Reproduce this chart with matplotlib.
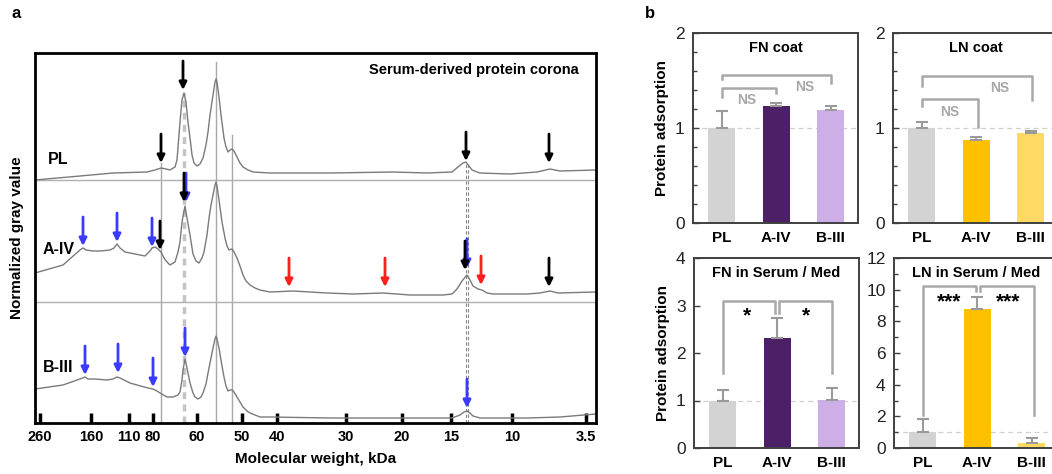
import matplotlib
matplotlib.use('Agg')
import matplotlib.pyplot as plt
from matplotlib.ticker import MultipleLocator

plt.rcParams['font.family'] = ['Liberation Sans', 'DejaVu Sans']

# ---------- panel a : densitometry traces ----------
# x = migration distance (a.u.), y = gray value above lane baseline
pl_x = [0, 45, 78, 112, 120, 126, 131, 135, 140, 142, 145, 147, 149, 151, 153, 155, 157, 159,
        162, 165, 168, 171, 173, 175, 178, 180, 181, 182, 184, 186, 189, 191, 193, 195, 197, 199,
        202, 205, 208, 213, 218, 235, 295, 358, 392, 417, 423, 428, 431, 434, 437, 445, 475, 502,
        515, 525, 561]
pl_y = [0, 4, 7, 8, 10, 12, 11, 10, 13, 20, 58, 80, 87, 78, 58, 42, 25, 17,
        14, 16, 22, 35, 48, 65, 85, 98, 101, 98, 83, 65, 42, 33, 28, 30, 31, 29,
        23, 17, 13, 10, 8, 7, 7, 8, 7, 8, 13, 17, 18, 14, 10, 7, 6, 8,
        11, 9, 10]

a4_x = [0, 28, 45, 48, 51, 58, 65, 75, 79, 82, 85, 90, 100, 110, 115, 117, 120, 123, 126, 129,
        132, 135, 140, 143, 145, 147, 150, 152, 155, 158, 161, 164, 167, 169, 172, 174, 176, 178,
        180, 181, 182, 184, 187, 190, 192, 194, 197, 199, 202, 205, 208, 211, 215, 220, 225, 235,
        258, 292, 318, 348, 375, 408, 417, 422, 427, 432, 435, 438, 443, 447, 452, 458, 492, 505,
        515, 523, 561]
a4_y = [29, 37, 52, 54, 52, 51, 51, 52, 54, 58, 54, 50, 48, 46, 51, 54, 55, 53, 50, 44,
        40, 37, 40, 50, 60, 80, 96, 84, 67, 48, 41, 39, 44, 50, 67, 84, 97, 107,
        117, 120, 116, 102, 80, 64, 56, 52, 53, 50, 44, 36, 27, 21, 17, 14, 12, 10,
        11, 9, 8, 9, 7, 7, 8, 13, 21, 27, 22, 16, 13, 12, 9, 8, 8, 9,
        11, 9, 10]

b3_x = [0, 28, 45, 50, 53, 60, 72, 78, 82, 85, 89, 95, 102, 113, 118, 122, 125, 132, 138, 143,
        145, 147, 148, 150, 152, 155, 158, 160, 163, 166, 168, 171, 173, 176, 178, 180, 181, 182,
        184, 187, 189, 191, 193, 195, 197, 199, 202, 205, 208, 212, 215, 220, 225, 235, 295, 358,
        417, 425, 429, 432, 435, 438, 445, 458, 492, 525, 561]
b3_y = [34, 38, 44, 46, 44, 44, 43, 44, 46, 45, 43, 40, 38, 35, 34, 32, 30, 26, 26, 28,
        31, 43, 53, 64, 55, 40, 30, 26, 24, 26, 30, 39, 50, 65, 75, 84, 87, 84,
        75, 57, 46, 37, 32, 33, 33, 31, 26, 21, 16, 12, 10, 8, 6, 6, 5, 5,
        5, 8, 11, 12, 10, 7, 5, 5, 5, 6, 9]

lane_names = ['PL', 'A-IV', 'B-III']
lane_base = [243, 121, 0]

kda_labels = ['260', '160', '110', '80', '60', '50', '40', '30', '20', '15', '10', '3.5']
kda_pos = [5, 56, 94, 118, 162, 207, 242, 311, 367, 416, 477, 551]

# arrows: (x, tip height, colour)
K, B, R = 'black', '#3b3bff', '#ff1e1e'
arrows = [(126, 260, K), (148, 333, K), (431, 262, K), (514, 260, K),
          (48, 177, B), (82, 181, B), (117, 176, B), (125, 173, K),
          (151, 221, B), (149, 221, K), (254, 136, R), (350, 136, R), (446, 138, R),
          (432, 155, B), (430, 153, K), (514, 136, K),
          (50, 48, B), (83, 50, B), (118, 36, B), (150, 66, B), (432, 15, B)]

fig = plt.figure(figsize=(10.52, 4.74), dpi=100)
ax = fig.add_axes([35 / 1052, 51 / 474, 561 / 1052, 370 / 474])
ax.set_xlim(0, 561)
ax.set_ylim(0, 370)

# reference lines
for xv, y0 in [(126, 260), (181, 361), (197, 288)]:
    ax.plot([xv, xv], [0, y0], color='#a8a8a8', lw=1.0, zorder=1)
ax.plot([149, 149], [0, 330], color='#c4c4c4', lw=2.5, ls=(0, (2, 1.5)), zorder=1)
for xv in [431, 432.8]:
    ax.plot([xv, xv], [0, 261], color='#888888', lw=0.8, ls=(0, (3, 2)), zorder=1)
for yb in lane_base[:2]:
    ax.axhline(yb, color='#b0b0b0', lw=1.0, zorder=1)

for xs, ys, base in zip([pl_x, a4_x, b3_x], [pl_y, a4_y, b3_y], lane_base):
    ax.plot(xs, [base + v for v in ys], color='#7a7a7a', lw=1.0, zorder=2)

ax.text(13, 243 + 20, 'PL', fontsize=11.5, fontweight='bold', va='center')
ax.text(8, 121 + 52, 'A-IV', fontsize=11.5, fontweight='bold', va='center')
ax.text(8, 56, 'B-III', fontsize=11.5, fontweight='bold', va='center')
ax.text(544, 353, 'Serum-derived protein corona', fontsize=10.5, fontweight='bold',
        ha='right', va='center')

for xv, tip, c in arrows:
    ax.annotate('', xy=(xv, tip), xytext=(xv, tip + 29),
                arrowprops=dict(arrowstyle='-|>', color=c, lw=2.0, mutation_scale=11,
                                shrinkA=0, shrinkB=0), zorder=3)

ax.set_xticks(kda_pos)
ax.set_xticklabels(kda_labels, fontsize=10.5, fontweight='bold')
ax.tick_params(axis='x', direction='in', length=7, width=2.5, pad=5)
ax.set_yticks([])
for s in ax.spines.values():
    s.set_linewidth(2.0)
ax.set_xlabel('Molecular weight, kDa', fontsize=11, fontweight='bold', labelpad=6)
ax.set_ylabel('Normalized gray value', fontsize=11, fontweight='bold', labelpad=8)
fig.text(12 / 1052, 1 - 14 / 474, 'a', fontsize=12, fontweight='bold', va='center')

# ---------- panel b : bar charts ----------
groups = ['PL', 'A-IV', 'B-III']
fn_colors = ['#d3d3d3', '#4b2066', '#ceaee6']
ln_colors = ['#d3d3d3', '#ffc000', '#ffd966']

fn_coat = [1.0, 1.23, 1.19]
fn_coat_err = [0.18, 0.03, 0.04]
ln_coat = [1.0, 0.87, 0.95]
ln_coat_err = [0.06, 0.04, 0.02]
fn_serum = [1.0, 2.32, 1.01]
fn_serum_err = [0.22, 0.42, 0.25]
ln_serum = [1.0, 8.78, 0.30]
ln_serum_err = [0.81, 0.78, 0.31]

# brackets: x left, x right, y left foot, y top, y right foot
fn_coat_br = [(0, 1.0, 1.33, 1.42, 1.37), (0, 2.0, 1.52, 1.56, 1.47)]
fn_coat_lab = [('NS', 0.45, 1.29), ('NS', 1.53, 1.43)]
ln_coat_br = [(0, 1.03, 1.23, 1.31, 1.01), (0, 2.02, 1.44, 1.55, 1.29)]
ln_coat_lab = [('NS', 0.52, 1.17), ('NS', 1.42, 1.42)]
fn_serum_br = [(0, 0.96, 1.58, 3.09, 2.84), (1.04, 2.0, 2.84, 3.09, 1.58)]
fn_serum_lab = [('*', 0.45, 2.78), ('*', 1.53, 2.78)]
ln_serum_br = [(0, 0.98, 2.08, 10.25, 9.92), (1.05, 2.05, 9.92, 10.25, 2.08)]
ln_serum_lab = [('***', 0.49, 9.2), ('***', 1.57, 9.2)]


def bar_panel(rect, vals, errs, colors, title, ymax, major, minor, brs, labs, ylabel):
    axb = fig.add_axes(rect)
    xs = range(len(groups))
    axb.bar(xs, vals, width=0.5, color=colors, zorder=2)
    axb.errorbar(xs, vals, yerr=[[0] * len(errs), errs], fmt='none', ecolor='#9a9a9a',
                 elinewidth=1.5, capsize=4, capthick=1.5, zorder=3)
    axb.axhline(1, color='#d0d0d0', lw=0.9, ls=(0, (4, 3)), zorder=1)
    for x1, x2, y1, yt, y2 in brs:
        axb.plot([x1, x1, x2, x2], [y1, yt, yt, y2], color='#a8a8a8', lw=1.8, zorder=1)
    for t, tx, ty in labs:
        if t == 'NS':
            axb.text(tx, ty, t, color='#a8a8a8', fontsize=10, fontweight='bold',
                     ha='center', va='center')
        else:
            axb.text(tx, ty, t, color='black', fontsize=15, fontweight='bold',
                     ha='center', va='center')
    axb.set_xlim(-0.53, 2.5)
    axb.set_ylim(0, ymax)
    axb.yaxis.set_major_locator(MultipleLocator(major))
    if minor:
        axb.yaxis.set_minor_locator(MultipleLocator(minor))
    axb.tick_params(axis='y', which='both', direction='in', labelsize=12.5, length=4,
                    width=1.0, colors='#404040', labelcolor='#222222', pad=6)
    axb.tick_params(axis='y', which='minor', length=3)
    axb.set_xticks(list(xs))
    axb.set_xticklabels(groups, fontsize=11, fontweight='bold')
    axb.tick_params(axis='x', length=0, pad=6)
    for s in axb.spines.values():
        s.set_color('#404040')
        s.set_linewidth(1.4)
    axb.text(0.5, 0.92, title, transform=axb.transAxes, ha='center', va='center',
             fontsize=10.5, fontweight='bold')
    if ylabel:
        axb.set_ylabel('Protein adsorption', fontsize=11, fontweight='bold', labelpad=4)
    return axb


w, h = 165 / 1052, 190 / 474
bar_panel([693 / 1052, 251 / 474, w, h], fn_coat, fn_coat_err, fn_colors, 'FN coat',
          2, 1, 0.2, fn_coat_br, fn_coat_lab, True)
bar_panel([893 / 1052, 251 / 474, w, h], ln_coat, ln_coat_err, ln_colors, 'LN coat',
          2, 1, 0.2, ln_coat_br, ln_coat_lab, False)
bar_panel([694 / 1052, 26 / 474, w, h], fn_serum, fn_serum_err, fn_colors, 'FN in Serum / Med',
          4, 1, None, fn_serum_br, fn_serum_lab, True)
bar_panel([894 / 1052, 26 / 474, w, h], ln_serum, ln_serum_err, ln_colors, 'LN in Serum / Med',
          12, 2, 1, ln_serum_br, ln_serum_lab, False)
fig.text(645 / 1052, 1 - 14 / 474, 'b', fontsize=12, fontweight='bold', va='center')

fig.savefig('out.png', dpi=100)
